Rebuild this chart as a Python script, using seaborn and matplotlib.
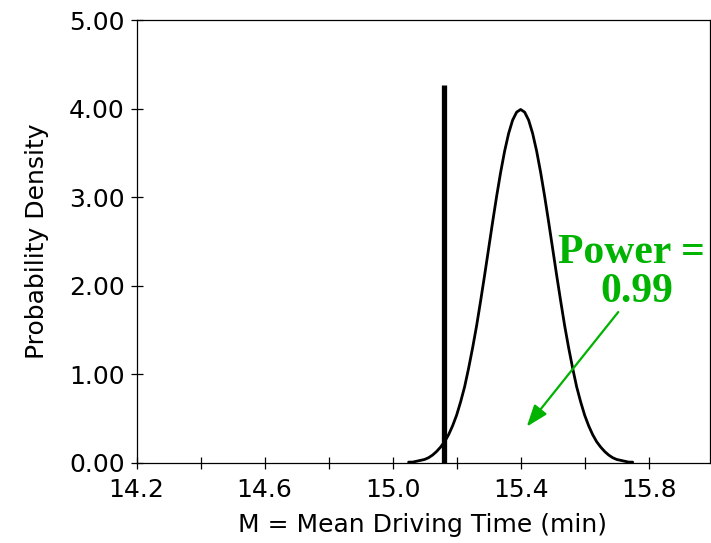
import matplotlib
matplotlib.use("Agg")
import matplotlib.pyplot as plt
import seaborn as sns
import pandas as pd

# ---- data ----
mean_time = [15.0500, 15.0625, 15.0750, 15.0875, 15.1000, 15.1125, 15.1250, 15.1375,
             15.1500, 15.1625, 15.1750, 15.1875, 15.2000, 15.2125, 15.2250, 15.2375,
             15.2500, 15.2625, 15.2750, 15.2875, 15.3000, 15.3125, 15.3250, 15.3375,
             15.3500, 15.3625, 15.3750, 15.3875, 15.4000, 15.4125, 15.4250, 15.4375,
             15.4500, 15.4625, 15.4750, 15.4875, 15.5000, 15.5125, 15.5250, 15.5375,
             15.5500, 15.5625, 15.5750, 15.5875, 15.6000, 15.6125, 15.6250, 15.6375,
             15.6500, 15.6625, 15.6750, 15.6875, 15.7000, 15.7125, 15.7250, 15.7375,
             15.7500]
density = [0.01, 0.01, 0.02, 0.03, 0.04, 0.06, 0.09, 0.13,
           0.18, 0.24, 0.32, 0.42, 0.54, 0.69, 0.86, 1.07,
           1.30, 1.55, 1.83, 2.12, 2.42, 2.72, 3.01, 3.28,
           3.52, 3.72, 3.87, 3.96, 3.99, 3.96, 3.87, 3.72,
           3.52, 3.28, 3.01, 2.72, 2.42, 2.12, 1.83, 1.55,
           1.30, 1.07, 0.86, 0.69, 0.54, 0.42, 0.32, 0.24,
           0.18, 0.13, 0.09, 0.06, 0.04, 0.03, 0.02, 0.01,
           0.01]
critical_value = 15.16
critical_top = 4.27
power_label_1 = "Power ="
power_label_2 = "0.99"
xtick_values = [14.2, 14.4, 14.6, 14.8, 15.0, 15.2, 15.4, 15.6, 15.8]
xtick_labels = ["14.2", "", "14.6", "", "15.0", "", "15.4", "", "15.8"]
ytick_values = [0, 1, 2, 3, 4, 5]
ytick_labels = ["0.00", "1.00", "2.00", "3.00", "4.00", "5.00"]
x_label = "M = Mean Driving Time (min)"
y_label = "Probability Density"

df = pd.DataFrame({"M": mean_time, "density": density})

sns.set_style("ticks")
plt.rcParams["font.family"] = ["DejaVu Sans"]
plt.rcParams["text.color"] = "black"
plt.rcParams["axes.labelcolor"] = "black"

green = "#00b300"

fig = plt.figure(figsize=(7.11, 5.43), dpi=100)
ax = fig.add_axes([136.5 / 711, 1 - 463 / 543, (709.5 - 136.5) / 711, (463 - 20) / 543])

sns.lineplot(data=df, x="M", y="density", ax=ax, color="black", lw=2.0)
ax.vlines(critical_value, 0, critical_top, color="black", lw=3.8)

ax.set_xlim(14.2, 15.99)
ax.set_ylim(0, 5)
ax.set_xticks(xtick_values)
ax.set_xticklabels(xtick_labels)
ax.set_yticks(ytick_values)
ax.set_yticklabels(ytick_labels)
ax.tick_params(axis="both", direction="inout", length=9, width=0.9,
               labelsize=18, colors="black", labelcolor="black")
ax.tick_params(axis="x", pad=6)
ax.tick_params(axis="y", pad=4)
for s in ax.spines.values():
    s.set_visible(True)
    s.set_color("black")
    s.set_linewidth(0.9)

ax.set_xlabel(x_label, fontsize=18, labelpad=8, color="black")
ax.set_ylabel(y_label, fontsize=18, labelpad=14, color="black")

serif = ["Liberation Serif", "DejaVu Serif"]
ax.text(15.7475, 2.261, power_label_1, ha="center", va="baseline",
        fontsize=30, fontweight="bold", color=green, family=serif)
ax.text(15.763, 1.82, power_label_2, ha="center", va="baseline",
        fontsize=30, fontweight="bold", color=green, family=serif)
ax.annotate("", xy=(15.419, 0.41), xytext=(15.705, 1.704),
            arrowprops=dict(arrowstyle="-|>,head_length=0.55,head_width=0.2",
                            color=green, lw=1.6, mutation_scale=24,
                            shrinkA=0, shrinkB=0))

fig.savefig("out.png", dpi=100)
